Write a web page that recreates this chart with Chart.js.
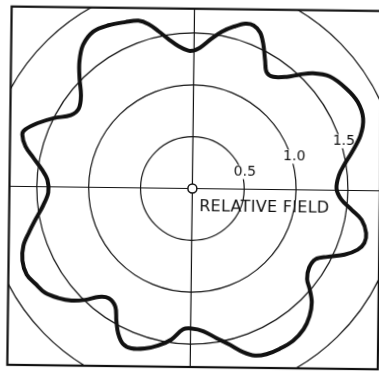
<!DOCTYPE html>
<html>
<head>
<meta charset="utf-8">
<script src="https://cdn.jsdelivr.net/npm/chart.js@4"></script>
<style>
  html, body { margin: 0; padding: 0; background: #fff; overflow: hidden; }
  body { width: 379px; height: 371px; position: relative; }
  /* the scanned original sits a little skewed on the page */
  #wrap {
    position: absolute; left: -10px; top: -10px; width: 400px; height: 392px;
    transform: rotate(0.7deg); transform-origin: 199.5px 195.5px;
  }
</style>
</head>
<body>
<div id="wrap"><canvas id="chart" width="400" height="392"></canvas></div>
<script>
// ========================== DATA ==========================
// bearing in degrees, clockwise from the top of the plot
const bearingDeg = [
  0, 2.4, 6.7, 10.0, 13.6, 17.1, 19.9, 22.8, 25.5, 28.9,
  31.9, 35.2, 39.5, 42.6, 45.6, 50.1, 56.3, 61.7, 67.0, 71.8,
  76.4, 80.5, 84.1, 89.3, 93.5, 96.9, 99.8, 103.7, 106.9, 109.6,
  112.8, 116.1, 119.1, 123.4, 127.6, 129.9, 132.9, 136.7, 141.0, 145.8,
  150.7, 155.2, 158.8, 162.1, 165.8, 170.2, 174.9, 179.6, 183.0, 187.2,
  191.6, 195.9, 200.2, 203.4, 206.4, 209.2, 212.4, 216.6, 220.1, 223.2,
  226.5, 230.1, 234.0, 238.0, 241.9, 246.3, 250.6, 254.3, 258.2, 262.7,
  267.7, 272.7, 276.4, 280.2, 283.5, 286.9, 288.7, 292.2, 296.2, 300.4,
  304.5, 309.2, 313.6, 317.7, 322.0, 327.0, 332.1, 337.4, 341.5, 344.4,
  347.2, 350.2, 353.7, 357.6
];

const relativeField = [
  1.33, 1.36, 1.46, 1.54, 1.61, 1.67, 1.68, 1.64, 1.55, 1.42,
  1.33, 1.33, 1.41, 1.51, 1.61, 1.71, 1.77, 1.80, 1.78, 1.70,
  1.58, 1.48, 1.42, 1.39, 1.44, 1.55, 1.66, 1.73, 1.74, 1.70,
  1.60, 1.46, 1.37, 1.36, 1.41, 1.49, 1.59, 1.67, 1.73, 1.76,
  1.76, 1.75, 1.72, 1.65, 1.55, 1.46, 1.38, 1.35, 1.36, 1.47,
  1.55, 1.61, 1.65, 1.64, 1.57, 1.47, 1.36, 1.33, 1.38, 1.49,
  1.59, 1.67, 1.74, 1.77, 1.80, 1.78, 1.72, 1.63, 1.54, 1.45,
  1.39, 1.40, 1.46, 1.56, 1.66, 1.72, 1.71, 1.62, 1.50, 1.37,
  1.34, 1.40, 1.52, 1.64, 1.74, 1.79, 1.77, 1.73, 1.70, 1.64,
  1.55, 1.46, 1.38, 1.33
];

const ringValues = [0.5, 1.0, 1.5, 2.0];
const ringLabels = ["0.5", "1.0", "1.5"];
const axisTitle = "RELATIVE FIELD";

// ========================== POINTS ==========================
const toRad = d => d * Math.PI / 180;

const pattern = bearingDeg.map((b, i) => ({
  x: relativeField[i] * Math.sin(toRad(b)),
  y: relativeField[i] * Math.cos(toRad(b))
}));
pattern.push(pattern[0]); // close the loop

// ========================== POLAR GRID PLUGIN ==========================
const INK = "#111";

const polarGrid = {
  id: "polarGrid",
  beforeDraw(chart) {
    const { ctx } = chart;
    ctx.save();
    ctx.fillStyle = "#fff";
    ctx.fillRect(0, 0, chart.width, chart.height);
    ctx.restore();
  },
  beforeDatasetsDraw(chart) {
    const { ctx, chartArea: a } = chart;
    const xs = chart.scales.x, ys = chart.scales.y;
    const cx = xs.getPixelForValue(0), cy = ys.getPixelForValue(0);
    const unit = xs.getPixelForValue(1) - cx;

    ctx.save();
    ctx.beginPath();
    ctx.rect(a.left, a.top, a.width, a.height);
    ctx.clip();

    // rings
    ctx.strokeStyle = INK;
    ctx.lineWidth = 1.2;
    ringValues.forEach(v => {
      ctx.beginPath();
      ctx.arc(cx, cy, v * unit, 0, Math.PI * 2);
      ctx.stroke();
    });

    // crosshair
    ctx.beginPath();
    ctx.moveTo(cx, a.top);
    ctx.lineTo(cx, a.bottom);
    ctx.moveTo(a.left, cy);
    ctx.lineTo(a.right, cy);
    ctx.stroke();

    // ring labels, sitting on the rings at about 72 deg
    ctx.font = "14px 'DejaVu Sans'";
    ctx.textAlign = "center";
    ctx.textBaseline = "middle";
    ringLabels.forEach((t, i) => {
      const r = (ringValues[i] + 0.03) * unit;
      const ang = toRad(72);
      const lx = cx + r * Math.sin(ang);
      const ly = cy - r * Math.cos(ang);
      const w = ctx.measureText(t).width;
      ctx.fillStyle = "#fff";
      ctx.fillRect(lx - w / 2 - 1, ly - 7, w + 2, 14);
      ctx.fillStyle = INK;
      ctx.fillText(t, lx, ly);
    });

    // axis title under the horizontal line
    ctx.font = "16px 'DejaVu Sans'";
    ctx.letterSpacing = "0.3px";
    ctx.textAlign = "left";
    ctx.textBaseline = "alphabetic";
    ctx.fillStyle = INK;
    ctx.fillText(axisTitle, cx + 7, cy + 23);
    ctx.letterSpacing = "0px";

    // centre marker
    ctx.beginPath();
    ctx.arc(cx, cy, 4.5, 0, Math.PI * 2);
    ctx.fillStyle = "#fff";
    ctx.fill();
    ctx.lineWidth = 1.5;
    ctx.stroke();
    ctx.restore();

    // frame
    ctx.save();
    ctx.strokeStyle = INK;
    ctx.lineWidth = 2.2;
    ctx.strokeRect(a.left, a.top, a.width, a.height);
    ctx.restore();
  }
};

// ========================== CHART ==========================
new Chart(document.getElementById("chart"), {
  type: "scatter",
  data: {
    datasets: [{
      data: pattern,
      showLine: true,
      borderColor: INK,
      borderWidth: 4,
      pointRadius: 0,
      tension: 0.35,
      fill: false
    }]
  },
  options: {
    responsive: false,
    animation: false,
    devicePixelRatio: 1,
    layout: { padding: { left: 19.5, top: 18.7, right: 10, bottom: 15 } },
    plugins: { legend: { display: false }, tooltip: { enabled: false } },
    scales: {
      x: { type: "linear", display: false, min: -1.7637, max: 1.809 },
      y: { type: "linear", display: false, min: -1.7213, max: 1.7338 }
    }
  },
  plugins: [polarGrid]
});
</script>
</body>
</html>
